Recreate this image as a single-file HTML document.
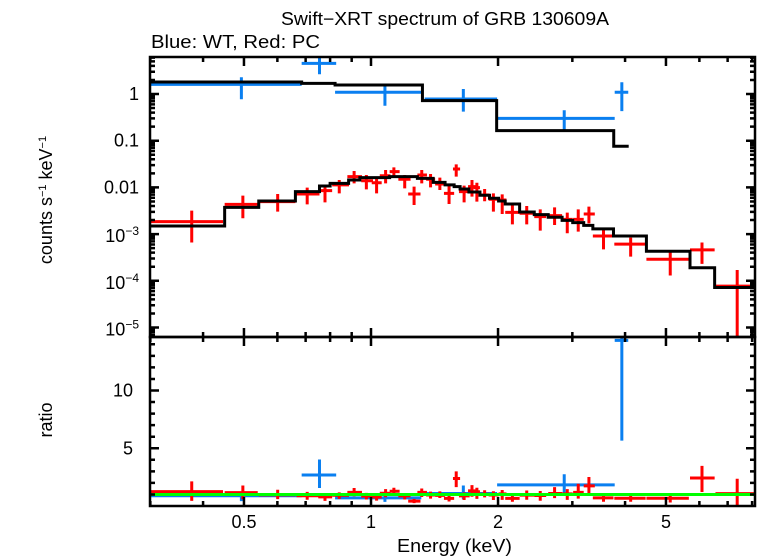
<!DOCTYPE html>
<html><head><meta charset="utf-8"><style>
body{margin:0;background:#fff;}
svg{display:block;font-family:"Liberation Sans",sans-serif;}
</style></head><body>
<svg id="chart" width="758" height="556" viewBox="0 0 758 556">
<text x="281" y="25" font-size="18" textLength="328" lengthAdjust="spacingAndGlyphs">Swift−XRT spectrum of GRB 130609A</text>
<text x="151" y="48" font-size="18" textLength="169" lengthAdjust="spacingAndGlyphs">Blue: WT, Red: PC</text>
<text transform="translate(52,200) rotate(-90)" text-anchor="middle" font-size="18">counts s<tspan dy="-6" font-size="11">−1</tspan><tspan dy="6"> keV</tspan><tspan dy="-6" font-size="11">−1</tspan></text>
<text transform="translate(52,420) rotate(-90)" text-anchor="middle" font-size="18">ratio</text>
<text x="397" y="552" font-size="18" textLength="115" lengthAdjust="spacingAndGlyphs">Energy (keV)</text>
<g id="g"></g>
</svg>
<script>
// Blue WT data
const wtE=[0.493,0.755,1.079,1.655,2.87,3.93];
const wtElo=[0.299,0.685,0.822,1.34,1.99,3.78];
const wtEhi=[0.685,0.827,1.316,1.99,3.78,4.07];
const wtF=[1.61,4.54,1.09,0.78,0.30,1.09];
const wtFlo=[0.77,2.64,0.56,0.42,0.17,0.43];
const wtFhi=[2.28,6.8,1.5,1.28,0.45,1.78];
const wtModelEdges=[0.299,0.685,0.822,1.324,1.985,3.76,4.08];
const wtModel=[1.81,1.69,1.56,0.72,0.164,0.076];
// Red PC data
const pcE=[0.376,0.497,0.601,0.706,0.778,0.841,0.912,0.975,1.031,1.083,1.133,1.202,1.265,1.319,1.384,1.456,1.531,1.592,1.662,1.735,1.782,1.859,1.950,2.046,2.163,2.339,2.518,2.723,2.918,3.098,3.284,3.556,4.124,5.118,6.086,7.375];
const pcElo=[0.299,0.450,0.542,0.666,0.750,0.809,0.879,0.948,1.004,1.049,1.107,1.161,1.225,1.288,1.351,1.419,1.489,1.564,1.616,1.698,1.750,1.812,1.900,2.006,2.080,2.250,2.437,2.630,2.831,3.013,3.192,3.355,3.772,4.494,5.701,6.550];
const pcEhi=[0.446,0.539,0.662,0.755,0.809,0.887,0.952,1.011,1.060,1.112,1.169,1.241,1.310,1.357,1.419,1.498,1.574,1.626,1.713,1.782,1.812,1.909,2.006,2.094,2.250,2.437,2.601,2.837,3.006,3.192,3.391,3.755,4.475,5.665,6.521,8.32];
const pcF=[0.00185,0.00434,0.00495,0.00723,0.00851,0.0113,0.0170,0.0139,0.0126,0.0178,0.0217,0.0149,0.00723,0.0184,0.0149,0.0118,0.00747,0.0248,0.0081,0.0104,0.00987,0.00688,0.00556,0.00538,0.00292,0.00279,0.00236,0.00248,0.00207,0.00207,0.00269,0.00091,0.00061,0.00029,0.00046,0.000077];
const pcFlo=[0.00066,0.00218,0.00302,0.00434,0.00479,0.00747,0.0122,0.0091,0.00747,0.0122,0.0164,0.00955,0.0042,0.0122,0.0100,0.0088,0.00441,0.0170,0.00479,0.00634,0.00495,0.00504,0.00302,0.00269,0.00162,0.00162,0.00119,0.00157,0.00104,0.00113,0.0017,0.00047,0.00033,0.00013,0.00023,0.0000001];
const pcFhi=[0.00318,0.00665,0.00723,0.00987,0.0104,0.0144,0.0225,0.0184,0.0170,0.0236,0.0269,0.0184,0.0104,0.0236,0.0194,0.0162,0.0113,0.0312,0.0109,0.0144,0.0126,0.00925,0.00747,0.00711,0.0042,0.0040,0.00339,0.00374,0.00288,0.00339,0.00387,0.00133,0.00084,0.00042,0.00066,0.00017];
const pcModelEdges=[0.299,0.450,0.542,0.662,0.755,0.800,0.885,0.941,1.107,1.288,1.404,1.498,1.574,1.626,1.706,1.812,1.909,2.006,2.080,2.250,2.437,2.630,2.837,3.006,3.192,3.355,3.755,4.494,5.701,6.521,8.32];
const pcModel=[0.00149,0.00374,0.00512,0.0081,0.0107,0.0122,0.0144,0.0162,0.0170,0.0156,0.0128,0.0113,0.0104,0.00925,0.00797,0.00677,0.00584,0.00512,0.00441,0.00297,0.00261,0.00229,0.00197,0.00176,0.00154,0.00129,0.00091,0.00043,0.00019,0.000072];
// Axis ticks
const xMajor=[0.5,1,2,5];
const xMinor=[0.3,0.4,0.6,0.7,0.8,0.9,3,4,6,7,8];
const yTopExp=[0,-1,-2,-3,-4,-5];
const ratioMajor=[5,10];

const L=150,R=755,T1=57,B1=337,B2=506;
const NS='http://www.w3.org/2000/svg';
const g=document.getElementById('g');
function X(e){return 371+422*Math.log10(e);}
function Y(f){return 94-46.7*Math.log10(f);}
function YR(r){return 506-11.55*r;}
function el(t,a,p){const n=document.createElementNS(NS,t);for(const k in a)n.setAttribute(k,a[k]);(p||g).appendChild(n);return n;}

const defs=el('defs',{});
const c1=el('clipPath',{id:'c1'},defs);el('rect',{x:L,y:T1,width:R-L,height:B1-T1},c1);
const c2=el('clipPath',{id:'c2'},defs);el('rect',{x:L,y:B1,width:R-L,height:B2-B1},c2);
const topG=el('g',{'clip-path':'url(#c1)'});


const botG=el('g',{'clip-path':'url(#c2)'});



function modelAt(edges,vals,e){for(let i=0;i<vals.length;i++){if(e>=edges[i]&&e<=edges[i+1])return vals[i];}return vals[vals.length-1];}

function drawSeries(E,Elo,Ehi,F,Flo,Fhi,edges,model,color,name){
  for(let i=0;i<E.length;i++){
    const x=X(E[i]),y=Y(F[i]);
    const p=el('path',{d:`M${X(Elo[i])},${y}H${X(Ehi[i])}M${x},${Y(Fhi[i])}V${Y(Flo[i])}`,stroke:color,'stroke-width':3,fill:'none'},topG);
    
    
    const m=modelAt(edges,model,E[i]);
    const r=F[i]/m,rl=Flo[i]/m,rh=Fhi[i]/m;
    const q=el('path',{d:`M${X(Elo[i])},${YR(r)}H${X(Ehi[i])}M${x},${YR(rh)}V${YR(rl)}`,stroke:color,'stroke-width':3,fill:'none'},botG);
    
    
  }
}
function drawModel(edges,vals,name){
  let d=`M${X(edges[0])},${Y(vals[0])}`;
  for(let i=0;i<vals.length;i++){d+=`V${Y(vals[i])}H${X(edges[i+1])}`;}
  const p=el('path',{d:d,stroke:'#000','stroke-width':3,fill:'none'},topG);
  
  
}
drawSeries(wtE,wtElo,wtEhi,wtF,wtFlo,wtFhi,wtModelEdges,wtModel,'#0a7ff0','wt');
drawSeries(pcE,pcElo,pcEhi,pcF,pcFlo,pcFhi,pcModelEdges,pcModel,'#ff0000','pc');
drawModel(wtModelEdges,wtModel,'wt-model-line');
drawModel(pcModelEdges,pcModel,'pc-model-line');
const gl=el('line',{x1:L,x2:R,y1:YR(1),y2:YR(1),stroke:'#00ff00','stroke-width':3},botG);



for(const [y0,y1,n] of [[T1,B1,'spectrum-frame'],[B1,B2,'ratio-frame']]){
  const f=el('rect',{x:L,y:y0,width:R-L,height:y1-y0,fill:'none',stroke:'#000','stroke-width':2.5});
  
  
}
let td='';
for(const y of [T1,B1,B2]){
  xMajor.forEach(e=>{const x=X(e);if(y!==T1)td+=`M${x},${y}v-9`;if(y!==B2)td+=`M${x},${y}v9`;});
  xMinor.forEach(e=>{const x=X(e);if(y!==T1)td+=`M${x},${y}v-5`;if(y!==B2)td+=`M${x},${y}v5`;});
}
for(let k=-6;k<=1;k++){for(let m=1;m<10;m++){const v=m*Math.pow(10,k);const y=Y(v);if(y<T1||y>B1)continue;const len=m===1?9:5;td+=`M${L},${y}h${len}M${R},${y}h-${len}`;}}
for(let r=1;r<=14;r++){const y=YR(r);const len=r%5===0?9:5;td+=`M${L},${y}h${len}M${R},${y}h-${len}`;}
const ticks=el('path',{d:td,stroke:'#000','stroke-width':2.5,fill:'none'});



xMajor.forEach(e=>{const t=el('text',{x:X(e),y:528,'text-anchor':'middle','font-size':18});t.textContent=String(e);

});
yTopExp.forEach(k=>{const y=Y(Math.pow(10,k))+6;let t;
  if(k>=-2){t=el('text',{x:139,y:y,'text-anchor':'end','font-size':18});t.textContent=k===0?'1':(k===-1?'0.1':'0.01');}
  else{t=el('text',{x:139,y:y+2,'text-anchor':'end','font-size':18});
    t.appendChild(document.createTextNode('10'));const s=document.createElementNS(NS,'tspan');s.setAttribute('dy','-7');s.setAttribute('font-size','12');s.textContent='−'+(-k);t.appendChild(s);}
  
  
});
ratioMajor.forEach(r=>{const t=el('text',{x:133,y:YR(r)+6,'text-anchor':'end','font-size':18});t.textContent=String(r);

});
</script>
</body></html>
